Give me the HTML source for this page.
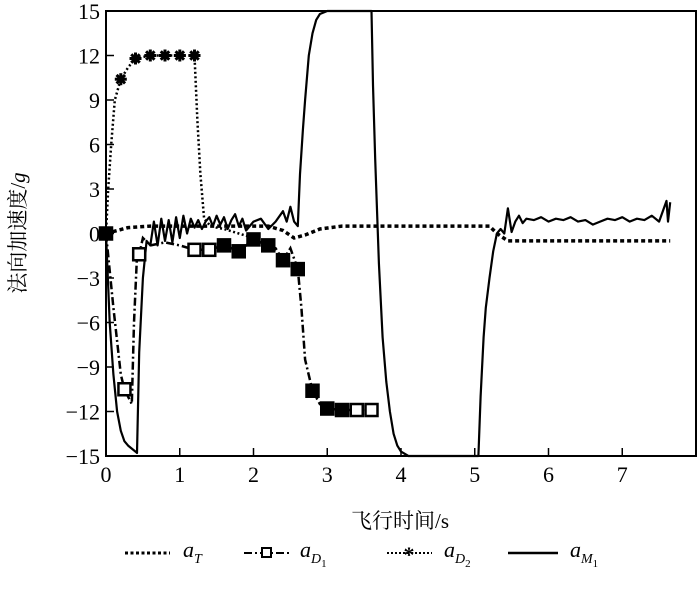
<!DOCTYPE html>
<html><head><meta charset="utf-8"><style>
body{margin:0;background:#fff}
svg text{font-family:"Liberation Serif","Noto Serif CJK SC",serif;fill:#000}
</style></head><body>
<svg id="chart" width="700" height="585" xmlns="http://www.w3.org/2000/svg">
<rect x="0" y="0" width="700" height="585" fill="#fff"/>
<g id="plot"></g>
<text x="400" y="528" font-size="21" text-anchor="middle">飞行时间/s</text>
<text transform="translate(25,233) rotate(-90)" font-size="21" text-anchor="middle">法向加速度/<tspan font-style="italic">g</tspan></text>
<g>
  <g>
    <line x1="125" y1="553" x2="170" y2="553" stroke="#000" stroke-width="3" stroke-dasharray="3,2.5"/>
    <text x="183" y="557" font-size="22" font-style="italic">a<tspan font-size="14" dy="6">T</tspan></text>
  </g>
  <g>
    <line x1="244" y1="553" x2="290" y2="553" stroke="#000" stroke-width="2" stroke-dasharray="8,3,2,3"/>
    <rect x="262" y="548" width="9" height="9" fill="#fff" stroke="#000" stroke-width="2"/>
    <text x="300" y="557" font-size="22" font-style="italic">a<tspan font-size="14" dy="6">D</tspan><tspan font-size="11" font-style="normal" dy="4">1</tspan></text>
  </g>
  <g>
    <line x1="387" y1="553" x2="432" y2="553" stroke="#000" stroke-width="2" stroke-dasharray="2,2"/>
    <text x="409" y="562" font-size="22" text-anchor="middle" font-weight="bold">*</text>
    <text x="444" y="557" font-size="22" font-style="italic">a<tspan font-size="14" dy="6">D</tspan><tspan font-size="11" font-style="normal" dy="4">2</tspan></text>
  </g>
  <g>
    <line x1="508" y1="553" x2="558" y2="553" stroke="#000" stroke-width="2.5"/>
    <text x="570" y="557" font-size="22" font-style="italic">a<tspan font-size="14" dy="6">M</tspan><tspan font-size="11" font-style="normal" dy="4">1</tspan></text>
  </g>
</g>
</svg>
<script>
const xTicks=[0,1,2,3,4,5,6,7];
const yTicks=[-15,-12,-9,-6,-3,0,3,6,9,12,15];
const aT_t=[0,0.3,0.6,2.2,2.4,2.55,2.7,2.9,3.2,5.2,5.3,5.45,7.65];
const aT_v=[0,0.4,0.5,0.5,0.2,-0.3,-0.1,0.3,0.5,0.5,0,-0.5,-0.5];
const aD1_t=[0,0.1,0.2,0.25,0.3,0.35,0.38,0.42,0.45,0.5,0.6,0.8,1.0,1.2,1.4,1.6,1.8,2.0,2.2,2.3,2.4,2.5,2.6,2.65,2.7,2.8,2.9,3.0,3.2,3.4,3.6];
const aD1_v=[0,-5,-9.5,-10.5,-11,-11.5,-6,-1.5,-1.4,-0.3,-0.8,-0.6,-0.8,-1.1,-1.1,-0.8,-1.2,-0.4,-0.8,-1,-1.8,-1,-2.4,-5,-8.5,-10.6,-11.5,-11.8,-11.9,-11.9,-11.9];
const aD1_mt=[0,0.25,0.45,1.2,1.4,1.6,1.8,2.0,2.2,2.4,2.6,2.8,3.0,3.2,3.4,3.6];
const aD1_mv=[0,-10.5,-1.4,-1.1,-1.1,-0.8,-1.2,-0.4,-0.8,-1.8,-2.4,-10.6,-11.8,-11.9,-11.9,-11.9];
const aD2_t=[0,0.03,0.07,0.12,0.2,0.3,0.4,0.6,0.8,1.0,1.2,1.24,1.28,1.33,1.4,1.5,1.6,1.8,2.0];
const aD2_v=[0,3,6,9,10.4,11.2,11.8,12,12,12,12,7.6,4,1,0.6,0.4,0.3,0,-0.3];
const aD2_mt=[0.2,0.4,0.6,0.8,1.0,1.2];
const aD2_mv=[10.4,11.8,12,12,12,12];
const aM1_t=[0,0.05,0.1,0.15,0.2,0.25,0.3,0.35,0.4,0.42,0.45,0.5,0.55,0.6,0.65,0.7,0.75,0.8,0.85,0.9,0.95,1.0,1.05,1.1,1.15,1.2,1.25,1.3,1.35,1.4,1.45,1.5,1.55,1.6,1.65,1.7,1.75,1.8,1.85,1.9,2.0,2.1,2.2,2.3,2.4,2.45,2.5,2.55,2.6,2.63,2.67,2.7,2.75,2.8,2.85,2.9,3.0,3.6,3.62,3.65,3.7,3.75,3.8,3.85,3.9,3.95,4.0,4.1,5.05,5.08,5.12,5.15,5.2,5.25,5.3,5.35,5.4,5.45,5.5,5.55,5.6,5.65,5.7,5.8,5.9,6.0,6.1,6.2,6.3,6.4,6.5,6.6,6.7,6.8,6.9,7.0,7.1,7.2,7.3,7.4,7.5,7.55,7.6,7.62,7.65];
const aM1_v=[0,-6,-9.5,-12,-13.3,-14,-14.3,-14.5,-14.7,-14.8,-8,-3,-0.5,-0.8,0.8,-0.8,1,-0.5,0.9,-0.6,1.1,-0.3,1.2,0,1,0.4,0.9,0.3,0.8,1.1,0.5,1.2,0.6,1.1,0.3,0.9,1.3,0.5,1,0.2,0.8,1,0.3,0.8,1.5,0.8,1.8,0.8,0.5,4,7,9,12,13.5,14.4,14.8,15,15,10,5,-2,-7,-10,-12,-13.5,-14.3,-14.7,-15,-15,-11,-7,-5,-3,-1.2,0,0.3,0,1.7,0.1,0.8,1.2,0.7,1,0.9,1.1,0.8,1,0.9,1.1,0.8,0.9,0.6,0.8,1,0.9,1.1,0.8,1,0.9,1.2,0.8,1.5,2.2,0.8,2.1];

const X0=106,X1=696,Y0=11,Y1=456;
const xs=t=>X0+(t-0)/8*(X1-X0);
const ys=v=>Y1-(v+15)/30*(Y1-Y0);
const NS="http://www.w3.org/2000/svg";
const plot=document.getElementById('plot');
function mk(tag,attrs,parent){const e=document.createElementNS(NS,tag);for(const k in attrs)e.setAttribute(k,attrs[k]);(parent||plot).appendChild(e);return e;}
function pts(t,v){return t.map((x,i)=>xs(x).toFixed(1)+','+ys(v[i]).toFixed(1)).join(' ');}

const frame=mk('rect',{x:X0,y:Y0,width:X1-X0,height:Y1-Y0,fill:'none',stroke:'#000','stroke-width':2});


xTicks.forEach(t=>{
  const l=mk('line',{x1:xs(t),x2:xs(t),y1:Y1,y2:Y1-8,stroke:'#000','stroke-width':1.5});
  
  
  const tx=mk('text',{x:xs(t),y:Y1+26,'font-size':22,'text-anchor':'middle'});
  tx.textContent=t;
  
  
});
yTicks.forEach(v=>{
  const l=mk('line',{x1:X0,x2:X0+8,y1:ys(v),y2:ys(v),stroke:'#000','stroke-width':1.5});
  
  
  const tx=mk('text',{x:X0-6,y:ys(v)+8,'font-size':22,'text-anchor':'end'});
  tx.textContent=v<0?'\u2212'+Math.abs(v):String(v);
  
  
});

const sT=mk('polyline',{points:pts(aT_t,aT_v),fill:'none',stroke:'#000','stroke-width':3.5,'stroke-dasharray':'4,3'});


const sD2=mk('polyline',{points:pts(aD2_t,aD2_v),fill:'none',stroke:'#000','stroke-width':2.5,'stroke-dasharray':'2,2.5'});


aD2_mt.forEach((t,i)=>{
  const g=mk('g',{transform:'translate('+xs(t).toFixed(1)+','+ys(aD2_mv[i]).toFixed(1)+')'});
  
  
  [0,45,90,135].forEach(a=>mk('line',{x1:-6,y1:0,x2:6,y2:0,stroke:'#000','stroke-width':3,transform:'rotate('+a+')'},g));
});
const sD1=mk('polyline',{points:pts(aD1_t,aD1_v),fill:'none',stroke:'#000','stroke-width':2.5,'stroke-dasharray':'8,3,2,3'});


const sM=mk('polyline',{points:pts(aM1_t,aM1_v),fill:'none',stroke:'#000','stroke-width':2.2,'stroke-linejoin':'round'});


aD1_mt.forEach((t,i)=>{
  const filled=(t>=1.6&&t<=3.2)||t===0;
  const r=mk('rect',{x:xs(t)-6,y:ys(aD1_mv[i])-6,width:12,height:12,fill:filled?'#000':'#fff',stroke:'#000','stroke-width':2.5});
  
  
});
</script>
</body></html>
